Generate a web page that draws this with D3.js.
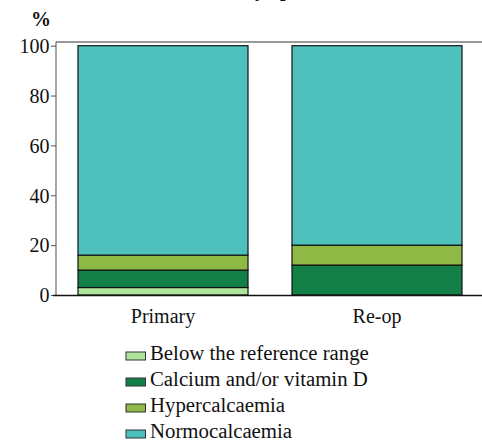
<!DOCTYPE html>
<html>
<head>
<meta charset="utf-8">
<script src="https://cdn.jsdelivr.net/npm/d3@7"></script>
<style>
  html, body { margin: 0; padding: 0; background: #fff; }
  svg { display: block; }
  svg text { font-family: "Liberation Serif", "Times New Roman", serif; }
</style>
</head>
<body>
<svg id="chart" width="482" height="442"></svg>
<script>
// Calcium status after parathyroid surgery, by operation type (%)
const categories = ["Primary", "Re-op"];
const seriesNames = ["Below the reference range", "Calcium and/or vitamin D", "Hypercalcaemia", "Normocalcaemia"];
const belowRange   = [3, 0];
const calciumVitD  = [7, 12];
const hypercalc    = [6, 8];
const normocalc    = [84, 80];
const yTicks = [0, 20, 40, 60, 80, 100];
const seriesColors = ["#aee59a", "#128046", "#8db944", "#4fc1bd"];

const rows = categories.map((c, i) => ({
  category: c,
  [seriesNames[0]]: belowRange[i],
  [seriesNames[1]]: calciumVitD[i],
  [seriesNames[2]]: hypercalc[i],
  [seriesNames[3]]: normocalc[i]
}));

const svg = d3.select("#chart");

const y = d3.scaleLinear().domain([0, 100]).range([295, 45.7]);
const x = d3.scaleBand().domain(categories).range([56, 484])
  .paddingInner(0.2056).paddingOuter(0.1028);
const color = d3.scaleOrdinal().domain(seriesNames).range(seriesColors);

// title (runs off the top edge)
const title = svg.append("text")
  .attr("y", -4)
  .attr("font-size", 20)
  .attr("font-weight", "bold")
  .attr("fill", "#111")
  .text("Calcium status by operation");
const full = title.node().textContent;
const offset = title.node().getSubStringLength(0, full.indexOf("by"));
title.attr("x", 244 - offset);

// plot frame
svg.append("line").attr("x1", 56).attr("x2", 56).attr("y1", 42).attr("y2", 295)
  .attr("stroke", "#777").attr("stroke-width", 1.3);
svg.append("line").attr("x1", 56).attr("x2", 482).attr("y1", 42).attr("y2", 42)
  .attr("stroke", "#777").attr("stroke-width", 1.3);

// y axis ticks and labels
const yAxis = svg.append("g").attr("transform", "translate(56,0)")
  .call(d3.axisLeft(y).tickValues(yTicks).tickSize(5).tickPadding(1.5));
yAxis.attr("font-family", null);
yAxis.select(".domain").remove();
yAxis.selectAll(".tick line").attr("stroke", "#555");
yAxis.selectAll(".tick text")
  .style("font-family", "'Liberation Serif', 'Times New Roman', serif")
  .attr("font-size", 20).attr("fill", "#111").attr("dy", "0.34em");

// y axis unit
svg.append("text").attr("x", 41).attr("y", 26)
  .attr("text-anchor", "middle").attr("font-size", 20).attr("font-weight", "bold")
  .attr("fill", "#111").text("%");

// stacked bars
const stacked = d3.stack().keys(seriesNames)(rows);
svg.append("g").selectAll("g").data(stacked).join("g")
  .attr("fill", d => color(d.key))
  .selectAll("rect").data(d => d.filter(s => s[1] - s[0] > 0)).join("rect")
  .attr("x", d => x(d.data.category))
  .attr("width", x.bandwidth())
  .attr("y", d => y(d[1]))
  .attr("height", d => y(d[0]) - y(d[1]))
  .attr("stroke", "#111").attr("stroke-width", 1.2);

// baseline
svg.append("line").attr("x1", 53).attr("x2", 482).attr("y1", 295.5).attr("y2", 295.5)
  .attr("stroke", "#111").attr("stroke-width", 1.3);

// category labels
svg.append("g").selectAll("text").data(categories).join("text")
  .attr("x", d => x(d) + x.bandwidth() / 2)
  .attr("y", 323)
  .attr("text-anchor", "middle").attr("font-size", 20).attr("fill", "#111")
  .text(d => d);

// legend
const legend = svg.append("g").selectAll("g").data(seriesNames).join("g")
  .attr("transform", (d, i) => `translate(126,${352 + i * 26})`);
legend.append("rect").attr("width", 19.5).attr("height", 8)
  .attr("fill", d => color(d)).attr("stroke", "#333").attr("stroke-width", 1);
legend.append("text").attr("x", 24).attr("y", 8)
  .attr("font-size", 20.8).attr("fill", "#111").text(d => d);
</script>
</body>
</html>
